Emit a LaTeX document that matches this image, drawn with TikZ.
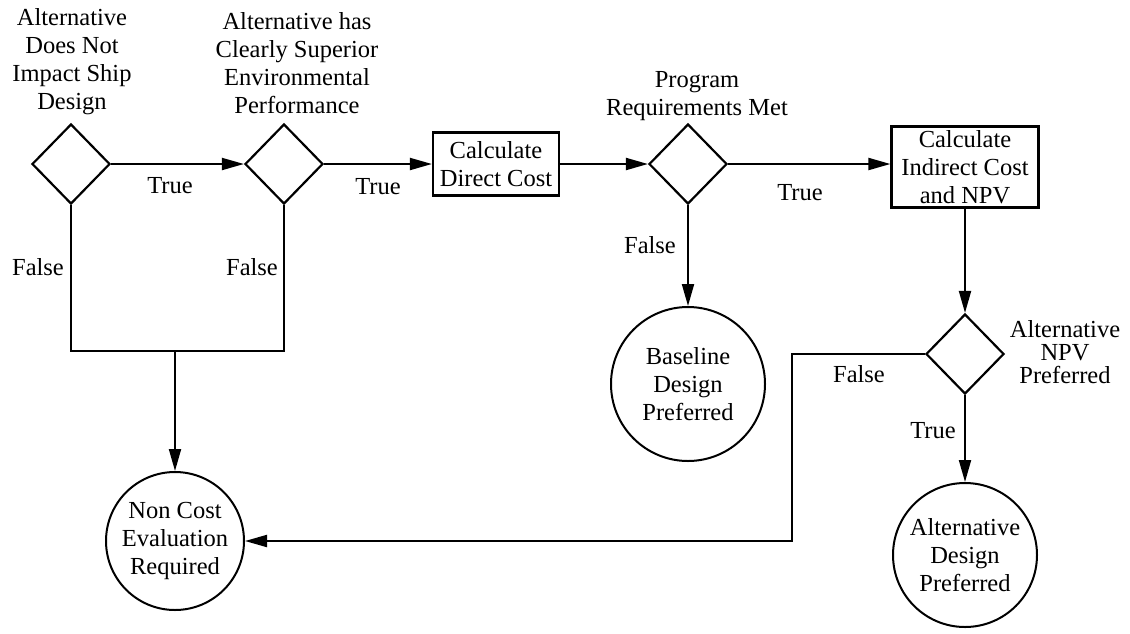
\documentclass[tikz,border=0pt]{standalone}
\usepackage{fontspec}
\setmainfont{Liberation Serif}
\usetikzlibrary{shapes.geometric,arrows.meta}
\begin{document}
\begin{tikzpicture}[x=1pt,y=-1pt,
  every node/.style={font=\fontsize{24.5}{28}\selectfont},
  decision/.style={draw, diamond, line width=2.2pt, minimum width=78pt,
    minimum height=80pt, inner sep=0pt},
  process/.style={draw, rectangle, line width=2.2pt, inner sep=0pt, align=center},
  terminal/.style={draw, circle, line width=2pt, inner sep=0pt, align=center},
  caption/.style={align=center, inner sep=0pt},
  flow/.style={line width=2pt, -{Triangle[length=22pt 0 0,width=12pt 0 0]}},
  link/.style={line width=2pt}]
\useasboundingbox (0,0) rectangle (1130,633);

% decisions and processes along the main row
\node[decision] (d1) at (71,164) {};
\node[decision] (d2) at (284,164) {};
\node[process, minimum width=126pt, minimum height=63pt] (b1) at (496,164) {Calculate\\Direct Cost};
\node[decision] (d3) at (688,164) {};
\node[process, minimum width=147pt, minimum height=81pt] (b2) at (965,167) {Calculate\\Indirect Cost\\and NPV};
\node[decision] (d4) at (965,354) {};

% end states
\node[terminal, minimum size=154pt] (base) at (688,384) {Baseline\\Design\\Preferred};
\node[terminal, minimum size=138pt] (nc) at (175,541) {Non Cost\\Evaluation\\Required};
\node[terminal, minimum size=144pt] (alt) at (965,555) {Alternative\\Design\\Preferred};

% question captions
\node[caption] (q1) at (72,62) {Alternative\\Does Not\\Impact Ship\\Design};
\node[caption] (q2) at (297,63) {Alternative has\\Clearly Superior\\Environmental\\Performance};
\node[caption] (q3) at (697,96) {Program\\Requirements Met};
\node[caption, font=\fontsize{24.5}{23}\selectfont] (q4) at (1065,352) {Alternative\\NPV\\Preferred};

% connectors
\coordinate (jn) at (175,351);
\draw[flow] (d1.east) -- (d2.west);
\draw[flow] (d2.east) -- (b1.west);
\draw[flow] (b1.east) -- (d3.west);
\draw[flow] (d3.east) -- (d3.east -| b2.west);
\draw[flow] (b2.south) -- (d4.north);
\draw[flow] (d3.south) -- (base.north);
\draw[flow] (d4.south) -- (alt.north);
\draw[link] (d1.south) |- (jn) -| (d2.south);
\draw[flow] (jn) -- (nc.north);
\draw[flow] (d4.west) -- ++(-133,0) |- (nc.east);

% branch labels
\node (t1) at (170,186) {True};
\node (t2) at (378,187) {True};
\node (t3) at (800,193) {True};
\node (t4) at (933,431) {True};
\node (f1) at (38,267) {False};
\node (f2) at (252,267) {False};
\node (f3) at (650,245) {False};
\node (f4) at (859,374) {False};
\end{tikzpicture}
\end{document}
